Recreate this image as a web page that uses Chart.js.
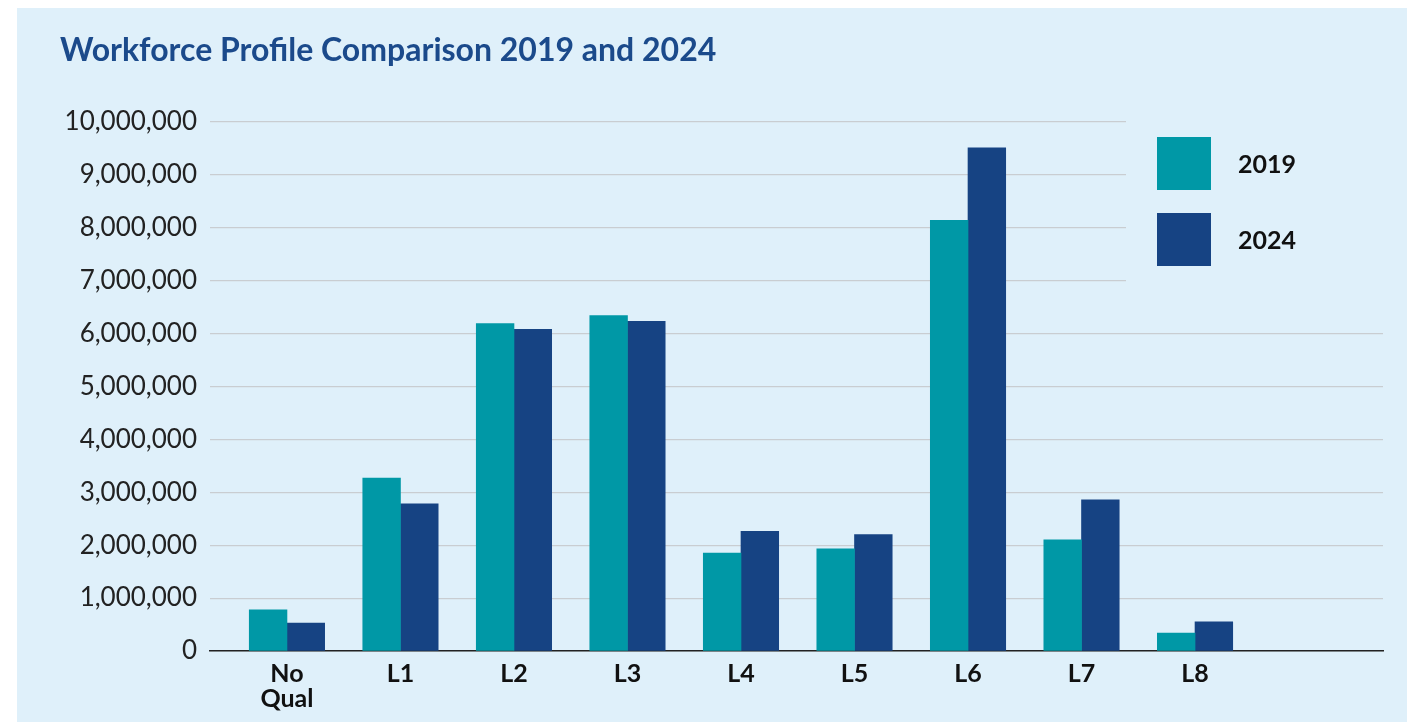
<!DOCTYPE html>
<html>
<head>
<meta charset="utf-8">
<title>Workforce Profile Comparison 2019 and 2024</title>
<script src="https://cdn.jsdelivr.net/npm/chart.js@4.4.1/dist/chart.umd.min.js"></script>
<style>
    html, body { margin: 0; padding: 0; background: #ffffff; }
    #panel {
        position: absolute;
        left: 17px;
        top: 8px;
        width: 1390px;
        height: 714px;
        background: #dff0fa;
    }
    #chart { display: block; }
</style>
</head>
<body>
<div id="panel">
    <canvas id="chart" width="1390" height="714"></canvas>
</div>
<script>
// ===================== DATA =====================
const categories = [["No", "Qual"], "L1", "L2", "L3", "L4", "L5", "L6", "L7", "L8"];
const seriesNames = ["2019", "2024"];
const values2019 = [780000, 3270000, 6190000, 6340000, 1850000, 1930000, 8140000, 2100000, 340000];
const values2024 = [530000, 2780000, 6080000, 6230000, 2260000, 2200000, 9510000, 2860000, 550000];
const yTicks = [0, 1000000, 2000000, 3000000, 4000000, 5000000, 6000000, 7000000, 8000000, 9000000, 10000000];

const colors = ["#0098a6", "#164383"];
const panelColor = "#dff0fa";

document.addEventListener("DOMContentLoaded", () => {
    const ctx = document.getElementById("chart");

    // Blank out the grid behind the legend, then draw the legend boxes
    const legendBlock = {
        id: "legendBlock",
        beforeDatasetsDraw(chart) {
            const c = chart.ctx;
            c.save();
            c.fillStyle = panelColor;
            c.fillRect(1109, 95, chart.chartArea.right - 1109 + 2, 200);
            c.restore();
        },
        afterDatasetsDraw(chart) {
            const c = chart.ctx;
            c.save();
            chart.data.datasets.forEach((ds, i) => {
                const y = 129 + i * 76;
                c.fillStyle = ds.backgroundColor;
                c.fillRect(1140, y, 54, 53);
                c.fillStyle = "#111111";
                c.font = "bold 25px Lato";
                c.textBaseline = "middle";
                c.fillText(ds.label, 1221, y + 28);
            });
            c.restore();
        }
    };

    const toData = (arr) => arr.map((v, i) => ({ x: i, y: v }));

    new Chart(ctx, {
        type: "bar",
        data: {
            datasets: [
                { label: seriesNames[0], data: toData(values2019), backgroundColor: colors[0], barThickness: 37.7 },
                { label: seriesNames[1], data: toData(values2024), backgroundColor: colors[1], barThickness: 37.7 }
            ]
        },
        options: {
            responsive: false,
            animation: false,
            layout: { padding: { left: 43, right: 24, top: 0, bottom: 0 } },
            plugins: {
                legend: { display: false },
                tooltip: { enabled: false },
                title: {
                    display: true,
                    text: "Workforce Profile Comparison 2019 and 2024",
                    align: "start",
                    color: "#1b4a8b",
                    font: { family: "Lato", size: 32, weight: "bold", lineHeight: 1.2 },
                    padding: { top: 23, bottom: 52.6 }
                }
            },
            scales: {
                x: {
                    type: "linear",
                    offset: false,
                    min: -0.678,
                    max: 9.656,
                    afterBuildTicks: (scale) => {
                        scale.ticks = categories.map((c, i) => ({ value: i }));
                    },
                    afterFit: (scale) => { scale.height = 71; },
                    grid: { display: false, drawTicks: false },
                    border: { display: true, color: "#222222", width: 1.5 },
                    ticks: {
                        autoSkip: false,
                        maxRotation: 0,
                        padding: 10,
                        color: "#111111",
                        font: { family: "Lato", size: 25, weight: "bold", lineHeight: 1.0 },
                        callback: (value) => categories[value]
                    }
                },
                y: {
                    min: 0,
                    max: 10000000,
                    afterBuildTicks: (scale) => {
                        scale.ticks = yTicks.map(v => ({ value: v }));
                    },
                    afterFit: (scale) => { scale.width = 150; },
                    grid: { color: "#c9cdd1", lineWidth: 1.2, drawTicks: false },
                    border: { display: false },
                    ticks: {
                        padding: 13,
                        color: "#222222",
                        font: { family: "Lato", size: 26, weight: "normal" },
                        callback: (value) => value.toLocaleString("en-US")
                    }
                }
            }
        },
        plugins: [legendBlock]
    });
});
</script>
</body>
</html>
